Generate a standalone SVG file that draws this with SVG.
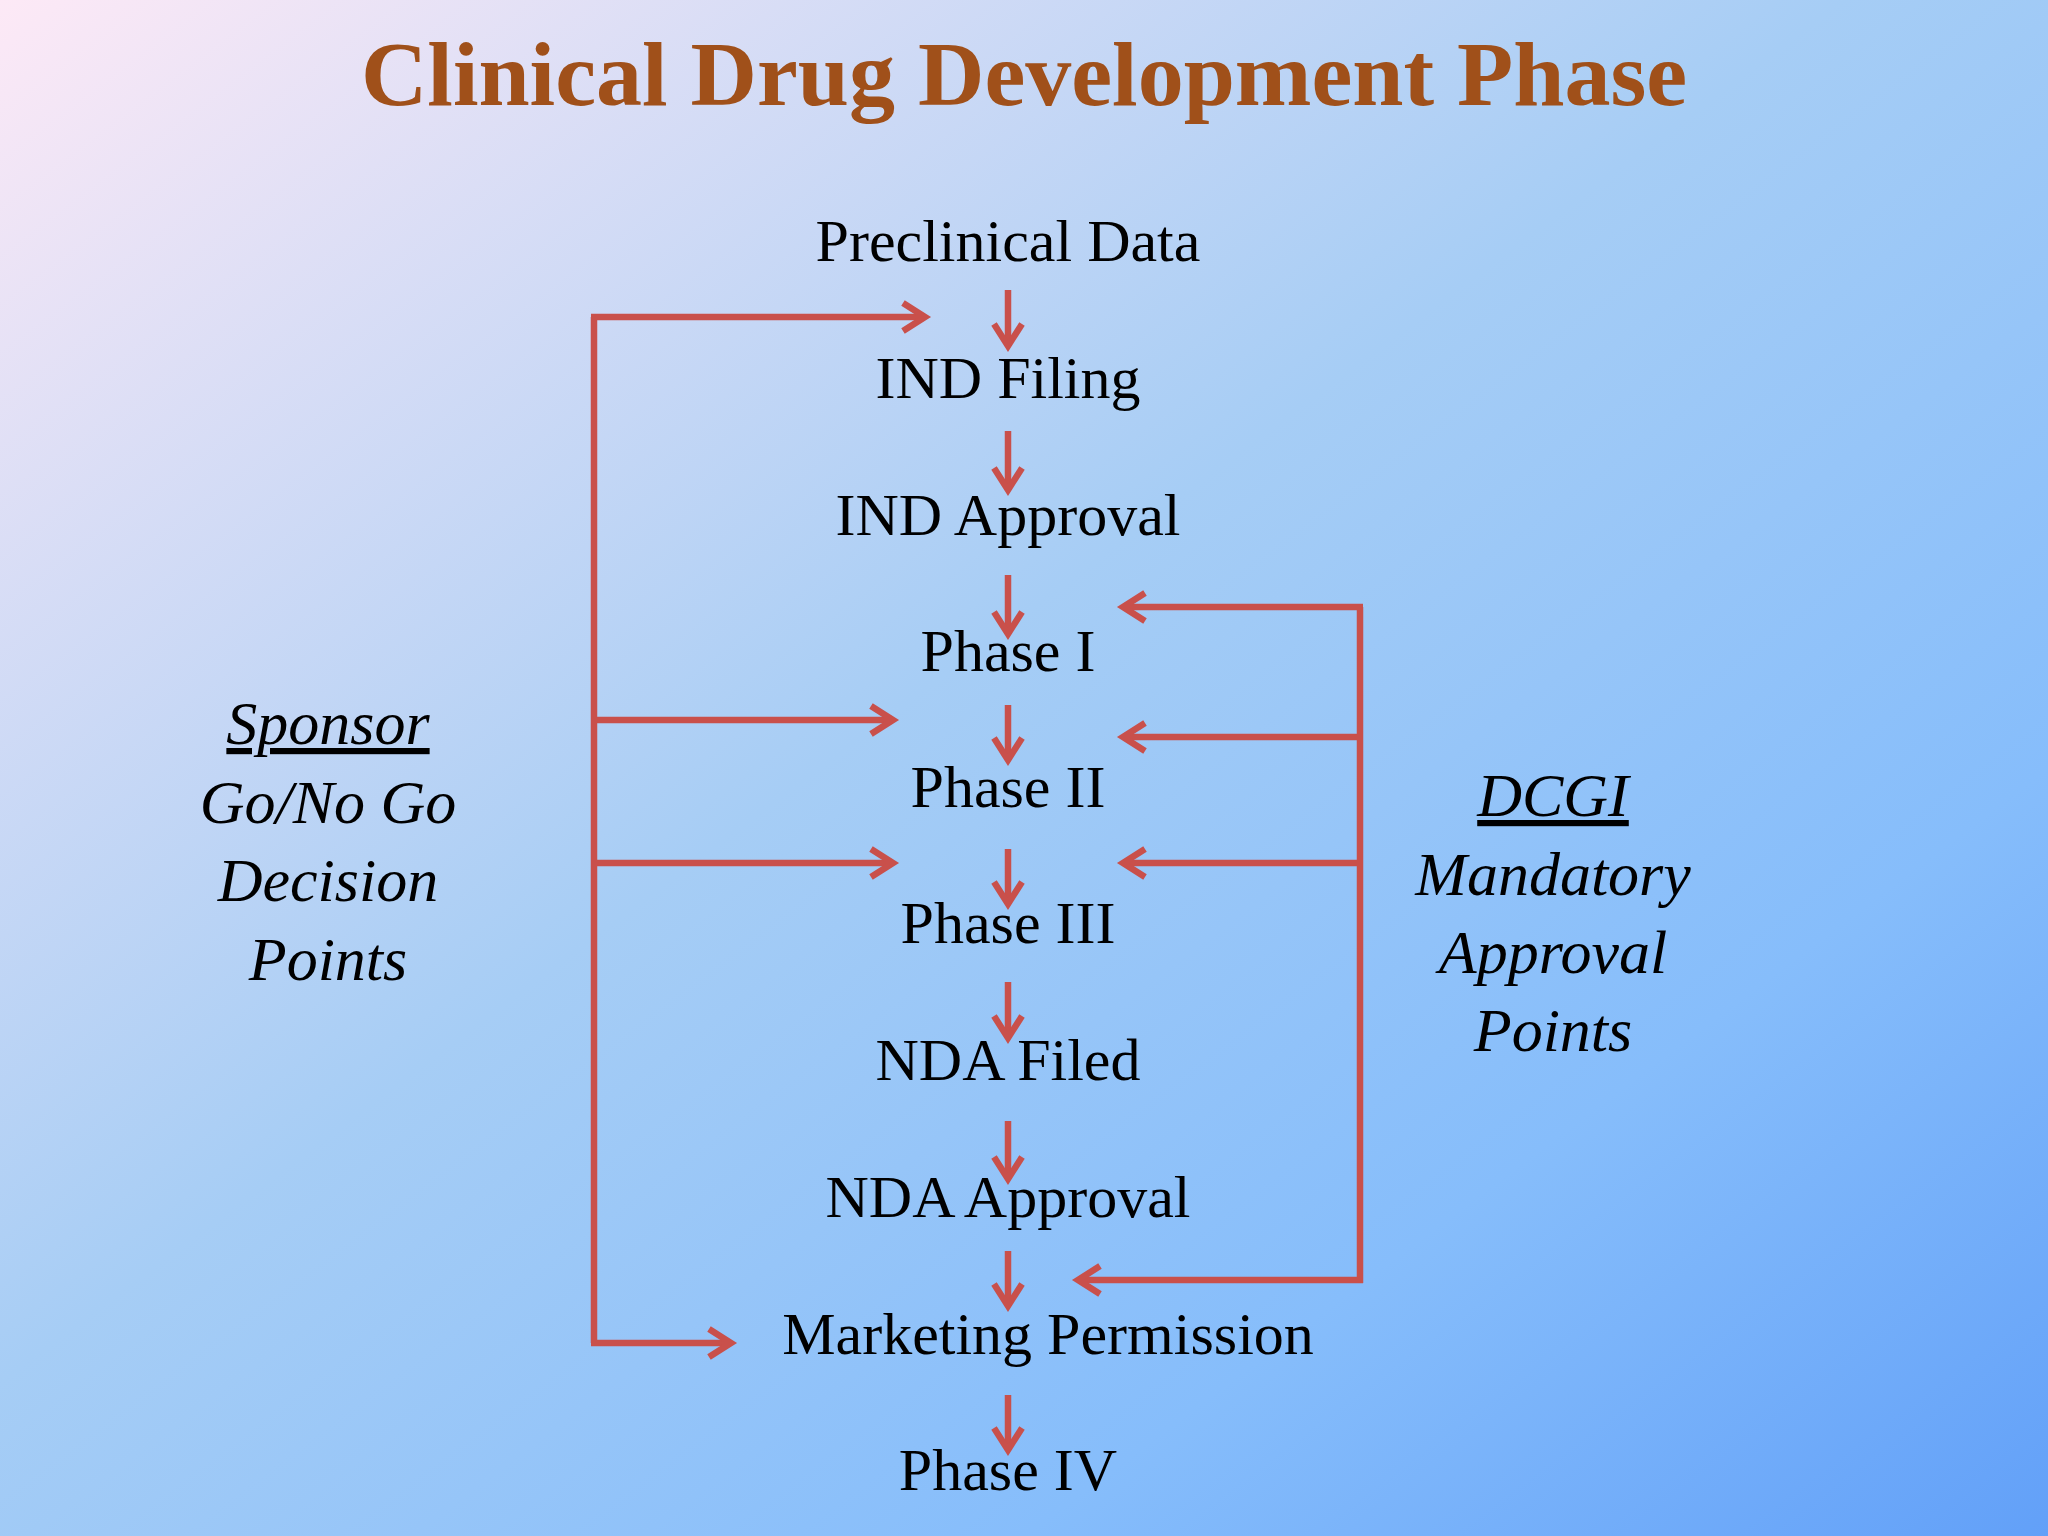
<svg xmlns="http://www.w3.org/2000/svg" width="2048" height="1536" viewBox="0 0 2048 1536">
<defs>
<linearGradient id="bg" x1="0" y1="0" x2="1" y2="1">
<stop offset="0" stop-color="#fde9f6"/>
<stop offset="0.45" stop-color="#a6cdf5"/>
<stop offset="0.75" stop-color="#86bdfb"/>
<stop offset="1" stop-color="#62a0f8"/>
</linearGradient>
<marker id="ah" markerUnits="userSpaceOnUse" markerWidth="40" markerHeight="40" refX="30" refY="20" orient="auto">
<path d="M8,6 L30,20 L8,34" fill="none" stroke="#c9504b" stroke-width="6.5"/>
</marker>
<style>
.t{font-family:"Liberation Serif",serif;font-size:60px;fill:#000;text-anchor:middle}
.i{font-family:"Liberation Serif",serif;font-style:italic;font-size:62px;fill:#000;text-anchor:middle}
.c{fill:none;stroke:#c9504b;stroke-width:6.5}
</style>
</defs>
<rect width="2048" height="1536" fill="url(#bg)"/>
<text x="1024" y="105" font-family="Liberation Serif,serif" font-weight="bold" font-size="92" fill="#a0501a" text-anchor="middle">Clinical Drug Development Phase</text>
<g id="n1"><text class="t" x="1008" y="261">Preclinical Data</text></g>
<g id="n2"><text class="t" x="1008" y="398">IND Filing</text></g>
<g id="n3"><text class="t" x="1008" y="535">IND Approval</text></g>
<g id="n4"><text class="t" x="1008" y="671">Phase I</text></g>
<g id="n5"><text class="t" x="1008" y="807">Phase II</text></g>
<g id="n6"><text class="t" x="1008" y="943">Phase III</text></g>
<g id="n7"><text class="t" x="1008" y="1080">NDA Filed</text></g>
<g id="n8"><text class="t" x="1008" y="1217">NDA Approval</text></g>
<g id="n9"><text class="t" x="1048" y="1354">Marketing Permission</text></g>
<g id="n10"><text class="t" x="1008" y="1490">Phase IV</text></g>
<g id="sponsor">
<text class="i" x="328" y="744" text-decoration="underline">Sponsor</text>
<text class="i" x="328" y="823">Go/No Go</text>
<text class="i" x="328" y="901">Decision</text>
<text class="i" x="328" y="980">Points</text>
</g>
<g id="dcgi">
<text class="i" x="1553" y="816" text-decoration="underline">DCGI</text>
<text class="i" x="1553" y="895">Mandatory</text>
<text class="i" x="1553" y="973">Approval</text>
<text class="i" x="1553" y="1051">Points</text>
</g>
<g id="connectors">
<path class="c" marker-end="url(#ah)" d="M1008,290 V346"/>
<path class="c" marker-end="url(#ah)" d="M1008,431 V490"/>
<path class="c" marker-end="url(#ah)" d="M1008,575 V634"/>
<path class="c" marker-end="url(#ah)" d="M1008,705 V760"/>
<path class="c" marker-end="url(#ah)" d="M1008,849 V904"/>
<path class="c" marker-end="url(#ah)" d="M1008,982 V1038"/>
<path class="c" marker-end="url(#ah)" d="M1008,1121 V1179"/>
<path class="c" marker-end="url(#ah)" d="M1008,1251 V1306"/>
<path class="c" marker-end="url(#ah)" d="M1008,1395 V1450"/>
<path class="c" d="M594,317 V1343"/>
<path class="c" marker-end="url(#ah)" d="M591,317 H925"/>
<path class="c" marker-end="url(#ah)" d="M594,720 H893"/>
<path class="c" marker-end="url(#ah)" d="M594,863 H893"/>
<path class="c" marker-end="url(#ah)" d="M591,1343 H731"/>
<path class="c" d="M1360,607 V1283"/>
<path class="c" marker-end="url(#ah)" d="M1363,607 H1123"/>
<path class="c" marker-end="url(#ah)" d="M1360,737 H1123"/>
<path class="c" marker-end="url(#ah)" d="M1360,863 H1123"/>
<path class="c" marker-end="url(#ah)" d="M1363,1280 H1078"/>
</g>
</svg>
